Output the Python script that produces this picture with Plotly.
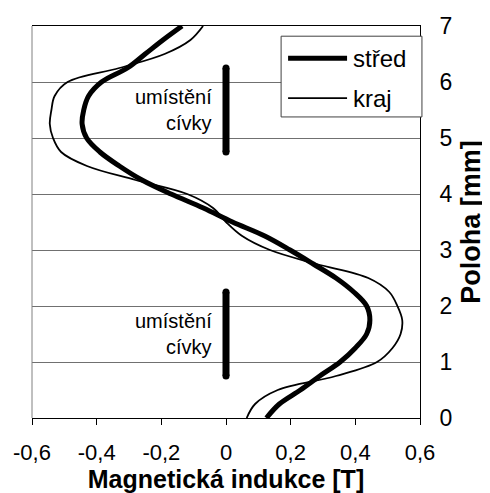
import plotly.graph_objects as go

# ---- data ----
position_mm = [0.0, 0.25, 0.5, 0.75, 1.0, 1.25, 1.5, 1.75, 2.0, 2.25, 2.5, 2.75, 3.0, 3.25,
               3.5, 3.75, 4.0, 4.25, 4.5, 4.75, 5.0, 5.25, 5.5, 5.75, 6.0, 6.25, 6.5, 6.75, 7.0]
stred_T = [0.125, 0.165, 0.23, 0.29, 0.353, 0.40, 0.435, 0.445, 0.435, 0.395, 0.34, 0.27, 0.198, 0.12,
           0.02, -0.07, -0.17, -0.26, -0.33, -0.39, -0.431, -0.445, -0.44, -0.425, -0.385, -0.305,
           -0.25, -0.195, -0.136]
kraj_T = [0.064, 0.09, 0.16, 0.34, 0.467, 0.515, 0.54, 0.545, 0.53, 0.505, 0.44, 0.28, 0.136, 0.05,
          0.0, -0.04, -0.12, -0.28, -0.43, -0.51, -0.535, -0.545, -0.54, -0.53, -0.49, -0.33,
          -0.19, -0.11, -0.071]
coil_lower_mm = [0.75, 2.25]
coil_upper_mm = [4.75, 6.25]
coil_B = [0, 0]

x_tick_values = [-0.6, -0.4, -0.2, 0, 0.2, 0.4, 0.6]
x_tick_labels = ["-0,6", "-0,4", "-0,2", "0", "0,2", "0,4", "0,6"]
y_tick_values = [0, 1, 2, 3, 4, 5, 6, 7]
y_tick_labels = ["0", "1", "2", "3", "4", "5", "6", "7"]

series_names = ["střed", "kraj"]
coil_label_lines = ["umístění", "cívky"]
x_title = "Magnetická indukce [T]"
y_title = "Poloha [mm]"

FONT = "Liberation Sans, Arial, sans-serif"

fig = go.Figure()
fig.add_trace(go.Scatter(x=kraj_T, y=position_mm, mode="lines", name=series_names[1],
                         line=dict(color="black", width=1.8, shape="spline", smoothing=1.0),
                         showlegend=False))
fig.add_trace(go.Scatter(x=stred_T, y=position_mm, mode="lines", name=series_names[0],
                         line=dict(color="black", width=5, shape="spline", smoothing=1.0),
                         showlegend=False))
for coil in (coil_lower_mm, coil_upper_mm):
    fig.add_trace(go.Scatter(x=coil_B, y=coil, mode="lines+markers",
                             line=dict(color="black", width=7),
                             marker=dict(color="black", size=7),
                             showlegend=False, hoverinfo="skip"))

annotations = []
for coil in (coil_lower_mm, coil_upper_mm):
    mid = (coil[0] + coil[1]) / 2
    for i, txt in enumerate(coil_label_lines):
        annotations.append(dict(x=0, y=mid + (0.24 if i == 0 else -0.24), xref="x", yref="y",
                                text=txt, showarrow=False, xanchor="right", yanchor="middle",
                                xshift=-12, font=dict(family=FONT, size=20, color="black")))

# manual legend (box + keys + labels) in paper coordinates
shapes = [
    dict(type="line", xref="paper", yref="paper", x0=0, x1=0, y0=0, y1=1,
         line=dict(color="#808080", width=1)),
    dict(type="rect", xref="paper", yref="paper", x0=0.642, x1=1.005, y0=0.768, y1=0.974,
         line=dict(color="#404040", width=1), fillcolor="white"),
    dict(type="line", xref="paper", yref="paper", x0=0.660, x1=0.812, y0=0.918, y1=0.918,
         line=dict(color="black", width=5)),
    dict(type="line", xref="paper", yref="paper", x0=0.660, x1=0.812, y0=0.816, y1=0.816,
         line=dict(color="black", width=1.8)),
]
for yy, name in zip([0.918, 0.816], series_names):
    annotations.append(dict(x=0.823, y=yy, xref="paper", yref="paper", text=name,
                            showarrow=False, xanchor="left", yanchor="middle",
                            font=dict(family=FONT, size=24, color="black")))

# the page body has an 8px margin, so the figure is 8px smaller than the window
fig.update_layout(
    width=482, height=485,
    margin=dict(l=24, r=70, t=18, b=75, autoexpand=False),
    paper_bgcolor="white", plot_bgcolor="white",
    font=dict(family=FONT, color="black"),
    shapes=shapes, annotations=annotations,
    showlegend=False,
)
fig.update_xaxes(
    range=[-0.6, 0.6], tickvals=x_tick_values, ticktext=x_tick_labels,
    showgrid=False, zeroline=False, automargin=False,
    showline=True, linecolor="black", linewidth=1, mirror=True,
    ticks="outside", ticklen=6, tickcolor="black", ticklabelstandoff=9,
    tickfont=dict(family=FONT, size=22, color="black"),
    title=dict(text="<b>" + x_title + "</b>", font=dict(family=FONT, size=25, color="black"),
               standoff=3),
)
fig.update_yaxes(
    range=[0, 7], tickvals=y_tick_values, ticktext=y_tick_labels, side="right",
    showgrid=True, gridcolor="#707070", gridwidth=1, zeroline=False, automargin=False,
    showline=True, linecolor="black", linewidth=1,
    ticks="", ticklabelstandoff=14,
    tickfont=dict(family=FONT, size=23, color="black"),
    title=dict(text="<b>" + y_title + "</b>", font=dict(family=FONT, size=27, color="black"),
               standoff=9),
)

fig.write_html("out.html")
